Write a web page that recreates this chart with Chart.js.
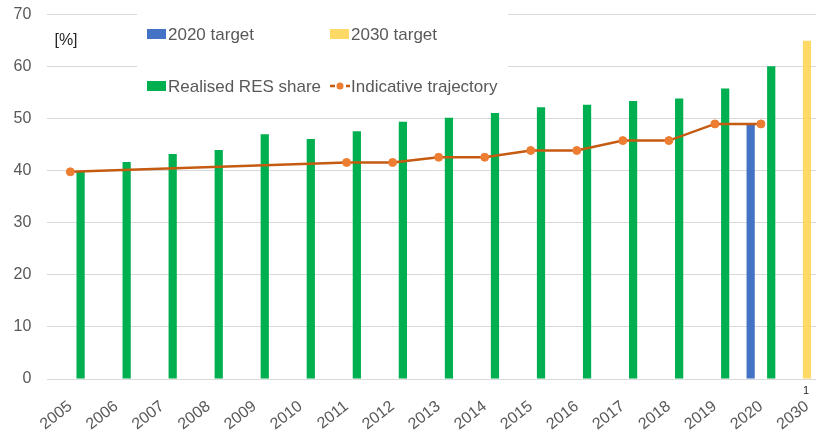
<!DOCTYPE html>
<html>
<head>
<meta charset="utf-8">
<script src="https://cdn.jsdelivr.net/npm/chart.js@4/dist/chart.umd.min.js"></script>
<style>
  html, body { margin: 0; padding: 0; background: #ffffff; overflow: hidden; width: 816px; height: 431px; }
  #wrap { position: relative; width: 830px; height: 431px; }
</style>
</head>
<body>
<div id="wrap"><canvas id="c"></canvas></div>
<script>
const categories = ['2005','2006','2007','2008','2009','2010','2011','2012','2013','2014','2015','2016','2017','2018','2019','2020','2030'];
const target2020 = [null,null,null,null,null,null,null,null,null,null,null,null,null,null,null,49,null];
const target2030 = [null,null,null,null,null,null,null,null,null,null,null,null,null,null,null,null,65];
const realised   = [39.8,41.7,43.2,44.0,47.0,46.1,47.6,49.4,50.2,51.1,52.2,52.7,53.4,53.9,55.8,60.1,null];
const trajectory = [39.8,null,null,null,null,null,41.6,41.6,42.6,42.6,43.9,43.9,45.8,45.8,49,49,null];
const yTicks = [0,10,20,30,40,50,60,70];
const seriesNames = ['2020 target','2030 target','Realised RES share','Indicative trajectory'];
const unitLabel = '[%]';
const footnote = '1';

const TXT = '#595959';
const FONT = '"Liberation Sans", Arial, sans-serif';

const overlayPlugin = {
  id: 'overlay',
  afterDraw(chart) {
    const ctx = chart.ctx;
    ctx.save();
    ctx.fillStyle = '#ffffff';
    ctx.fillRect(137, 4, 371, 96);
    ctx.font = '17px ' + FONT;
    ctx.textBaseline = 'middle';
    ctx.textAlign = 'left';
    const cols = [147, 330];
    const rows = [34, 86];
    const colors = ['#4472C4', '#FFD966', '#00B050'];
    for (let i = 0; i < 4; i++) {
      const x = cols[i % 2], y = rows[Math.floor(i / 2)];
      if (i < 3) {
        ctx.fillStyle = colors[i];
        ctx.fillRect(x, y - 5, 19, 10);
      } else {
        ctx.strokeStyle = '#C55A11';
        ctx.lineWidth = 2.5;
        ctx.setLineDash([5, 3]);
        ctx.beginPath();
        ctx.moveTo(x, y); ctx.lineTo(x + 20, y);
        ctx.stroke();
        ctx.setLineDash([]);
        ctx.fillStyle = '#ED7D31';
        ctx.beginPath(); ctx.arc(x + 10, y, 3.5, 0, Math.PI * 2); ctx.fill();
      }
      ctx.fillStyle = TXT;
      ctx.fillText(seriesNames[i], x + 21, y + 1);
    }
    ctx.fillStyle = '#262626';
    ctx.font = '16px ' + FONT;
    ctx.textAlign = 'center';
    ctx.fillText(unitLabel, 66, 41);
    const xs = chart.scales.x;
    ctx.font = '11px ' + FONT;
    ctx.fillStyle = '#262626';
    ctx.fillText(footnote, xs.getPixelForValue(16) - 1, 391);
    ctx.restore();
  }
};

new Chart(document.getElementById('c'), {
  data: {
    labels: categories,
    datasets: [
      { type: 'bar', label: seriesNames[0], data: target2020, backgroundColor: '#4472C4', order: 1,
        categoryPercentage: 0.67, barPercentage: 0.8 },
      { type: 'bar', label: seriesNames[1], data: target2030, backgroundColor: '#FFD966', order: 1,
        categoryPercentage: 0.67, barPercentage: 0.8 },
      { type: 'bar', label: seriesNames[2], data: realised, backgroundColor: '#00B050', order: 1,
        categoryPercentage: 0.67, barPercentage: 0.8 },
      { type: 'line', label: seriesNames[3], data: trajectory, borderColor: '#C55A11', borderWidth: 2.5,
        backgroundColor: '#ED7D31', pointBackgroundColor: '#ED7D31', pointBorderColor: '#ED7D31',
        pointRadius: 4, pointBorderWidth: 1, spanGaps: true, tension: 0, order: 0 }
    ]
  },
  options: {
    responsive: true,
    maintainAspectRatio: false,
    animation: false,
    events: [],
    layout: { autoPadding: false, padding: { top: 14.6, left: 0, right: 0, bottom: 0 } },
    plugins: { legend: { display: false }, tooltip: { enabled: false } },
    scales: {
      x: {
        grid: { display: false },
        border: { display: false },
        ticks: { color: TXT, font: { family: FONT, size: 16 }, minRotation: 38, maxRotation: 38, padding: 10, autoSkip: false },
        afterFit(s) { s.height = 52; s.paddingLeft = 0; s.paddingRight = 0; }
      },
      y: {
        min: 0, max: 70,
        afterBuildTicks(s) { s.ticks = yTicks.map(v => ({ value: v })); },
        grid: { color: '#d9d9d9', lineWidth: 1, drawTicks: false },
        border: { display: false },
        ticks: { color: TXT, font: { family: FONT, size: 16 }, padding: 16 },
        afterFit(s) { s.width = 47.3; s.paddingTop = 0; s.paddingBottom = 0; }
      }
    }
  },
  plugins: [overlayPlugin]
});
</script>
</body>
</html>
